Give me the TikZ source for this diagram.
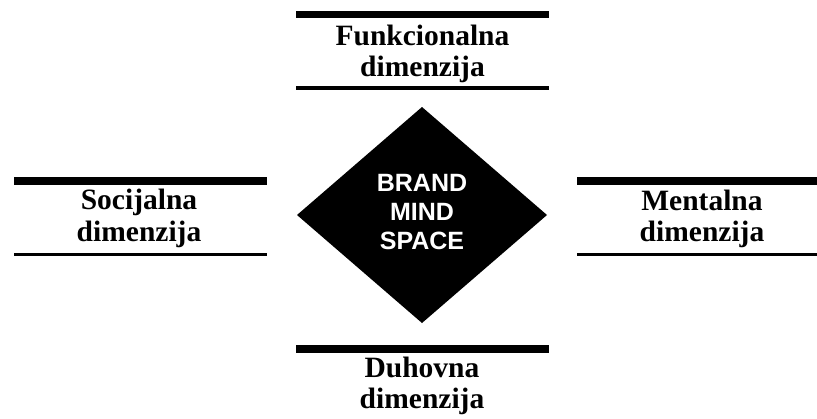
\documentclass[tikz,border=0pt]{standalone}
\usepackage{fontspec}
\setmainfont{Liberation Serif}
\newfontfamily\brandfont{Liberation Sans}
\begin{document}
\begin{tikzpicture}[x=1pt,y=-1pt,
  thickbar/.style={line width=7.5pt},
  thinbar/.style={line width=3.2pt},
  dimtext/.style={anchor=base,inner sep=0pt,font=\fontsize{29.5}{31}\selectfont\bfseries},
  brandtext/.style={anchor=base,inner sep=0pt,text=white,font=\brandfont\fontsize{25}{29}\selectfont\bfseries}]
\useasboundingbox (0,0) rectangle (817,418);
% diamond
\coordinate (dT) at (422,107);
\coordinate (dR) at (547,215);
\coordinate (dB) at (422,323);
\coordinate (dL) at (297,215);
\fill[black] (dT) -- (dR) -- (dB) -- (dL) -- cycle;
\node[brandtext] (b1) at (422,191) {BRAND};
\node[brandtext] (b2) at (422,220) {MIND};
\node[brandtext] (b3) at (422,249) {SPACE};
% top
\coordinate (t1a) at (296,14.5); \coordinate (t1b) at (549,14.5);
\coordinate (t2a) at (296,88);   \coordinate (t2b) at (549,88);
\draw[thickbar] (t1a) -- (t1b);
\draw[thinbar] (t2a) -- (t2b);
\node[dimtext] (f1) at (422.5,45) {Funkcionalna};
\node[dimtext] (f2) at (422.5,76) {dimenzija};
% left
\coordinate (l1a) at (14,181); \coordinate (l1b) at (267,181);
\coordinate (l2a) at (14,254.5); \coordinate (l2b) at (267,254.5);
\draw[thickbar] (l1a) -- (l1b);
\draw[thinbar] (l2a) -- (l2b);
\node[dimtext] (s1) at (139,209) {Socijalna};
\node[dimtext] (s2) at (139,241) {dimenzija};
% right
\coordinate (r1a) at (577,181); \coordinate (r1b) at (817,181);
\coordinate (r2a) at (577,254.5); \coordinate (r2b) at (817,254.5);
\draw[thickbar] (r1a) -- (r1b);
\draw[thinbar] (r2a) -- (r2b);
\node[dimtext] (m1) at (702,210) {Mentalna};
\node[dimtext] (m2) at (702,241) {dimenzija};
% bottom
\coordinate (u1a) at (296,349); \coordinate (u1b) at (549,349);
\draw[thickbar] (u1a) -- (u1b);
\node[dimtext] (d1) at (422,377) {Duhovna};
\node[dimtext] (d2) at (422,408) {dimenzija};
\end{tikzpicture}
\end{document}
